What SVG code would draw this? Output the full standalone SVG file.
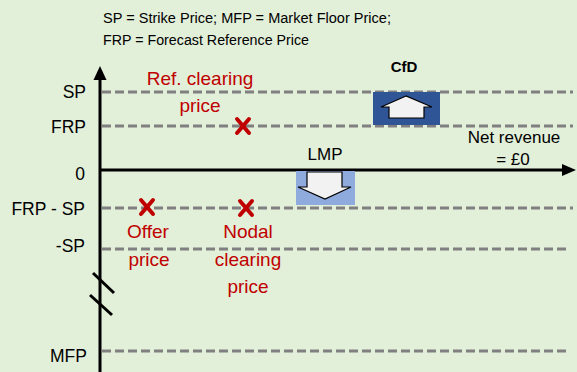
<svg xmlns="http://www.w3.org/2000/svg" width="577" height="372" viewBox="0 0 577 372">
<style>
.lbl{font-family:"Liberation Sans",Arial,sans-serif;font-size:17.5px;fill:#000;text-anchor:end}
.hdr{font-family:"Liberation Sans",Arial,sans-serif;font-size:15.5px;fill:#000}
.red{font-family:"Liberation Sans",Arial,sans-serif;font-size:19px;fill:#c00000;text-anchor:middle}
.blk{font-family:"Liberation Sans",Arial,sans-serif;font-size:17px;fill:#000;text-anchor:middle}
.dash{stroke:#808080;stroke-width:3;stroke-dasharray:9,4;fill:none}
.cross{stroke:#c00000;stroke-width:4;stroke-linecap:round}
</style>
<rect width="577" height="372" fill="#e2efd9"/>
<g id="header">
<text class="hdr" x="103" y="23" textLength="288" lengthAdjust="spacingAndGlyphs">SP = Strike Price; MFP = Market Floor Price;</text>
<text class="hdr" x="103" y="45" textLength="206" lengthAdjust="spacingAndGlyphs">FRP = Forecast Reference Price</text>
</g>
<g id="gridlines">
<line class="dash" x1="102" y1="92" x2="573" y2="92"/>
<line class="dash" x1="102" y1="126" x2="573" y2="126"/>
<line class="dash" x1="102" y1="208" x2="573" y2="208"/>
<line class="dash" x1="102" y1="249" x2="567" y2="249"/>
<line class="dash" x1="102" y1="351" x2="567" y2="351"/>
</g>
<g id="axes">
<line x1="100" y1="78" x2="100" y2="372" stroke="#000" stroke-width="3"/>
<polygon points="100,66 93.5,80 106.5,80" fill="#000"/>
<line x1="100" y1="170" x2="564" y2="170" stroke="#000" stroke-width="3"/>
<polygon points="576,170 562,164 562,176" fill="#000"/>
<line x1="93" y1="273" x2="114" y2="293" stroke="#000" stroke-width="3"/>
<line x1="90" y1="295" x2="112" y2="315" stroke="#000" stroke-width="3"/>
</g>
<g id="axis-labels">
<text class="lbl" x="86" y="98">SP</text>
<text class="lbl" x="86" y="133">FRP</text>
<text class="lbl" x="85" y="180">0</text>
<text class="lbl" x="85" y="215">FRP - SP</text>
<text class="lbl" x="85" y="252">-SP</text>
<text class="lbl" x="87" y="362">MFP</text>
</g>
<g id="ref-clearing">
<text class="red" x="200" y="85">Ref. clearing</text>
<text class="red" x="200" y="112">price</text>
<g class="cross"><line x1="237" y1="119" x2="249" y2="133"/><line x1="249" y1="119" x2="237" y2="133"/></g>
</g>
<g id="offer">
<g class="cross"><line x1="141" y1="200" x2="153" y2="214"/><line x1="153" y1="200" x2="141" y2="214"/></g>
<text class="red" x="148" y="238">Offer</text>
<text class="red" x="149" y="266">price</text>
</g>
<g id="nodal">
<g class="cross"><line x1="240" y1="201" x2="252" y2="215"/><line x1="252" y1="201" x2="240" y2="215"/></g>
<text class="red" x="248" y="238">Nodal</text>
<text class="red" x="248" y="266">clearing</text>
<text class="red" x="248" y="293">price</text>
</g>
<g id="cfd">
<text x="404" y="72" font-family="Liberation Sans,Arial,sans-serif" font-size="15" font-weight="bold" text-anchor="middle">CfD</text>
<rect x="373" y="92" width="67" height="33" fill="#2f5597"/>
<polygon points="406,96 381,107 389,107 389,118 424,118 424,107 432,107" fill="#f2f2f2" stroke="#000" stroke-width="1.2"/>
</g>
<g id="lmp">
<text class="blk" x="325" y="160">LMP</text>
<rect x="296" y="171" width="59" height="34" fill="#8faadc"/>
<polygon points="307,172 342,172 342,187 351,187 325,199 298,187 307,187" fill="#f2f2f2" stroke="#000" stroke-width="1.2"/>
</g>
<g id="net-revenue">
<text class="blk" x="514" y="143">Net revenue</text>
<text class="blk" x="513" y="165">= £0</text>
</g>
</svg>
